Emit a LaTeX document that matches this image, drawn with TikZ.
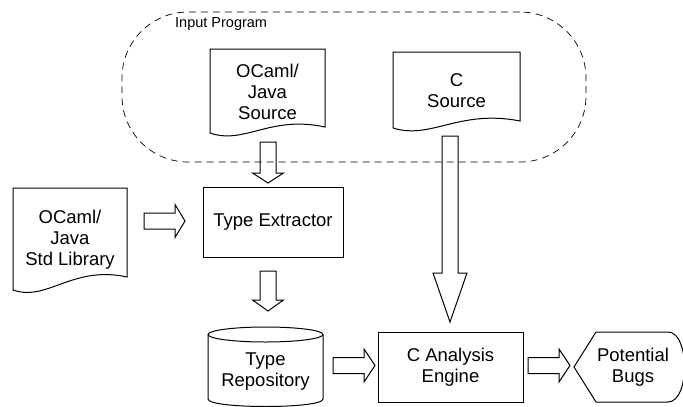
\documentclass[tikz,border=0pt]{standalone}
\usepackage{fontspec}
\setmainfont{Liberation Sans}
\usetikzlibrary{calc}
\newcommand\docshape[5]{\draw[shp] (#1,#4) -- (#1,#2) -- (#3,#2) -- (#3,#5) .. controls ({#3-0.48*(#3-#1)},{#5-12}) and ({#1+0.3*(#3-#1)},{#4+12}) .. (#1,#4) -- cycle;}
\newcommand\varrow[4]{\draw[barrow] let \p1=(#1), \p2=(#2) in (\x1-8pt,\y1) -- (\x1-8pt,\y2+#4) -- (\x1-#3,\y2+#4) -- (\x1,\y2) -- (\x1+#3,\y2+#4) -- (\x1+8pt,\y2+#4) -- (\x1+8pt,\y1) -- cycle;}
\newcommand\harrow[4]{\draw[barrow] let \p1=(#1), \p2=(#2) in (\x1,\y1+8pt) -- (\x2-#4,\y1+8pt) -- (\x2-#4,\y1+#3) -- (\x2,\y1) -- (\x2-#4,\y1-#3) -- (\x2-#4,\y1-8pt) -- (\x1,\y1-8pt) -- cycle;}
\begin{document}
\begin{tikzpicture}[x=1pt,y=-1pt,
  lbl/.style={align=center,inner sep=0pt,font=\fontsize{18.5}{21}\selectfont},
  shp/.style={draw=black,line width=1pt,line join=miter},
  barrow/.style={draw=black,line width=1pt,line join=miter}]
\useasboundingbox (0,0) rectangle (683,407);
% input program region
\node[draw=black,dashed,dash pattern=on 7pt off 5pt,line width=0.7pt,rounded corners=66pt,
      minimum width=464pt,minimum height=150pt,inner sep=0pt] (inp) at (354,87) {};
\node[anchor=base west,inner sep=0pt,font=\fontsize{14.5}{17}\selectfont] (inlbl) at (175,27) {Input Program};
% documents
\docshape{210}{49}{325}{133}{127}
\node[lbl] (ocs) at (267.5,92) {OCaml/\\Java\\Source};
\docshape{393}{52}{520}{128}{121}
\node[lbl] (cs) at (456.5,91) {C\\Source};
\docshape{13}{188}{127}{290}{277}
\node[lbl] (std) at (70,240) {OCaml/\\Java\\Std Library};
% type extractor
\node[shp,lbl,minimum width=140pt,minimum height=70pt] (te) at (273,222) {Type Extractor};
% type repository (cylinder)
\draw[shp] (208,334.5) -- (208,399) .. controls (208,409) and (323,409) .. (323,399) -- (323,334.5);
\draw[shp] (265.5,334.5) ellipse[x radius=57.5pt,y radius=7.5pt];
\node[lbl] (tr) at (265.5,371.5) {Type\\Repository};
% C analysis engine
\node[shp,lbl,minimum width=145pt,minimum height=70pt] (eng) at (450.5,367) {C Analysis\\Engine};
% potential bugs (display shape)
\draw[shp] (574,367) -- (596,332) -- (668,332) .. controls (690,332) and (690,402) .. (668,402) -- (596,402) -- cycle;
\node[lbl] (pb) at (633,367) {Potential\\Bugs};
% block arrows
\coordinate (a1s) at (268,142); \coordinate (a1t) at (268,183);
\varrow{a1s}{a1t}{15.5pt}{10pt}
\coordinate (a2s) at (144,221); \coordinate (a2t) at (185,221);
\harrow{a2s}{a2t}{16.5pt}{10pt}
\coordinate (a3s) at (268,271); \coordinate (a3t) at (268,311);
\varrow{a3s}{a3t}{15.5pt}{11pt}
\coordinate (a4s) at (333,365.5); \coordinate (a4t) at (375,365.5);
\harrow{a4s}{a4t}{16.5pt}{11pt}
\coordinate (a5s) at (528,365.5); \coordinate (a5t) at (570,365.5);
\harrow{a5s}{a5t}{16.5pt}{11pt}
\coordinate (a6s) at (450,136); \coordinate (a6t) at (450,322);
\varrow{a6s}{a6t}{17pt}{49pt}
\end{tikzpicture}
\end{document}
